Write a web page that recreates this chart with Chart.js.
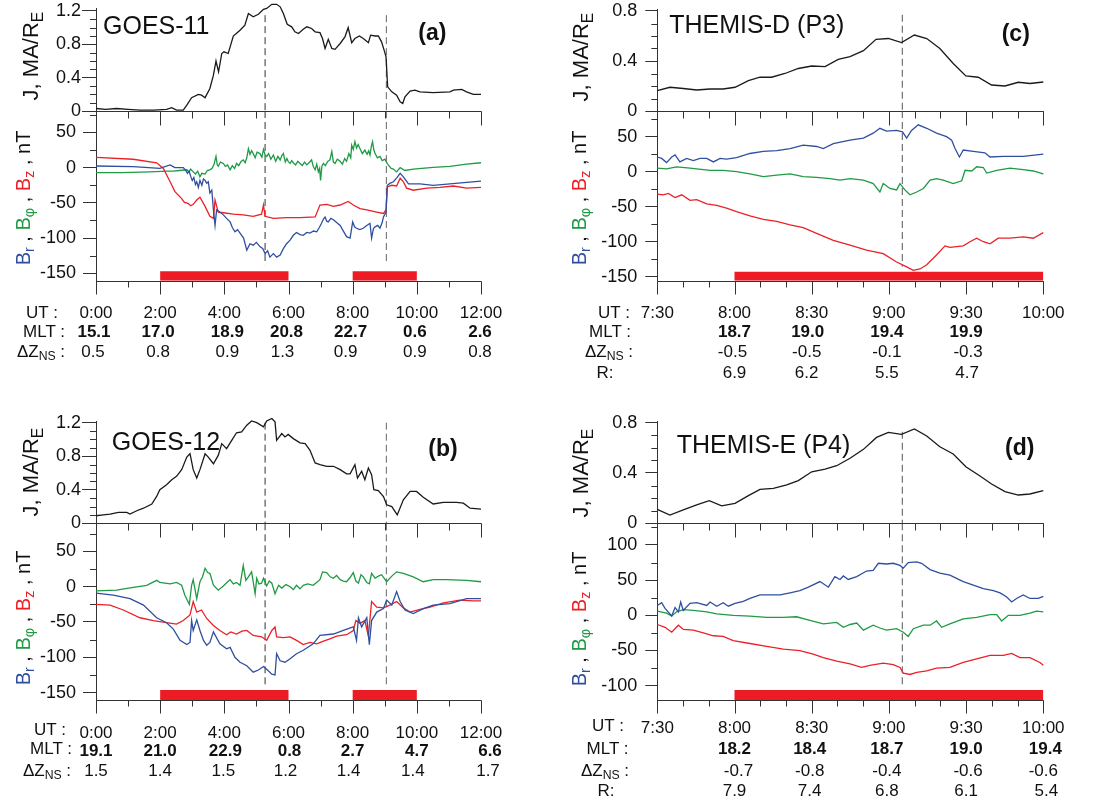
<!DOCTYPE html>
<html><head><meta charset="utf-8">
<script src="https://cdn.jsdelivr.net/npm/chart.js@4"></script>
<style>
html,body{margin:0;padding:0;background:#fff;}
#page{position:relative;width:1099px;height:806px;overflow:hidden;font-family:"Liberation Sans",Arial,Helvetica,sans-serif;color:#111;background:#fff;}
#page canvas{position:absolute;left:0;top:0;}
.t{position:absolute;white-space:nowrap;transform:translate(-50%,-50%);font-size:17px;line-height:1;}
.b{font-weight:bold;}
.rot{position:absolute;white-space:nowrap;transform:translate(-50%,-50%) rotate(-90deg);line-height:1;}
.ttl{position:absolute;white-space:nowrap;line-height:1;}
sub{font-size:72%;vertical-align:-0.3em;line-height:0;}
</style></head>
<body><div id="page"></div>
<script>
// ---------------- DATA ----------------
// Panel (a) GOES-11, time in hours UT
const tJa=[0,0.3,0.64,1.0,1.37,1.8,2.2,2.36,2.51,2.72,2.83,2.98,3.19,3.29,3.40,3.55,3.66,3.74,3.82,3.92,3.99,4.12,4.28,4.49,4.64,4.75,4.90,5.06,5.22,5.32,5.48,5.63,5.74,5.84,5.96,6.10,6.20,6.31,6.46,6.57,6.72,6.83,6.98,7.06,7.14,7.24,7.35,7.45,7.61,7.76,7.86,7.97,8.07,8.21,8.33,8.49,8.56,8.70,8.80,8.90,8.98,9.04,9.09,9.22,9.37,9.48,9.56,9.63,9.79,9.94,10.10,10.51,11.03,11.14,11.40,11.55,11.76,12.0];
const jA=[0.03,0.02,0.03,0.02,0.01,0.01,0.02,0.04,0.01,0.01,0.07,0.16,0.2,0.19,0.16,0.27,0.43,0.6,0.47,0.69,0.71,0.69,0.9,0.97,1.03,1.17,1.13,1.16,1.22,1.23,1.28,1.28,1.25,1.17,1.04,1.01,0.95,0.93,0.98,1.01,0.99,0.95,0.94,0.87,0.75,0.86,0.75,0.74,0.81,0.89,1.0,0.82,0.87,0.9,0.87,0.82,0.91,0.9,0.9,0.83,0.73,0.65,0.29,0.23,0.19,0.11,0.09,0.17,0.24,0.25,0.23,0.22,0.23,0.25,0.26,0.23,0.2,0.2];
const tBzA=[0,1.16,1.89,2.10,2.31,2.46,2.67,2.75,2.88,2.95,3.03,3.14,3.24,3.40,3.55,3.66,3.71,3.81,3.97,4.28,4.59,4.90,5.16,5.22,5.27,5.53,5.94,6.36,6.83,6.98,7.19,7.40,7.61,7.86,8.02,8.23,8.44,8.75,8.96,9.04,9.08,9.22,9.37,9.48,9.58,9.68,9.89,10.31,10.72,11.14,11.55,12.0];
const bzA=[14.7,12,7,-1,-20,-34,-44,-49,-51,-54,-52,-46,-42,-55,-69,-72,-46,-63,-64,-66,-67,-69,-66,-53,-69,-72,-71,-71,-70,-53,-52,-55,-53,-48,-53,-58,-60,-63,-65,-60,-27,-25,-26,-15,-20,-29,-32,-29,-28,-26,-29,-28];
const tBrA=[0,1.16,1.99,2.31,2.46,2.72,2.8,2.85,2.9,2.95,3.0,3.05,3.1,3.14,3.19,3.24,3.3,3.35,3.40,3.45,3.50,3.55,3.61,3.66,3.71,3.76,3.86,3.97,4.07,4.18,4.25,4.33,4.41,4.49,4.6,4.70,4.8,4.90,5.0,5.11,5.2,5.27,5.35,5.42,5.53,5.63,5.74,5.84,5.94,6.05,6.15,6.25,6.36,6.46,6.57,6.67,6.78,6.88,6.96,7.03,7.09,7.14,7.19,7.24,7.32,7.40,7.5,7.61,7.71,7.81,7.92,8.00,8.06,8.12,8.22,8.33,8.44,8.54,8.59,8.65,8.70,8.78,8.85,8.92,8.96,9.04,9.08,9.17,9.27,9.38,9.48,9.58,9.74,10.10,10.51,11.03,11.55,12.0];
const brA=[2.4,1.4,-1,4,0,0,-4,-8,-5,-12,-18,-14,-24,-20,-28,-18,-25,-16,-18,-22,-20,-36,-32,-60,-82,-60,-63,-67,-72,-77,-85,-91,-88,-93,-100,-117,-108,-110,-106,-112,-115,-122,-118,-127,-122,-127,-124,-115,-108,-103,-96,-92,-95,-96,-92,-93,-90,-91,-85,-79,-73,-70,-76,-77,-72,-74,-78,-82,-90,-98,-100,-77,-84,-86,-88,-86,-82,-79,-100,-86,-84,-82,-86,-78,-70,-63,-25,-22,-20,-14,-8,-13,-23,-23,-25,-23,-21,-19];
const tBpA=[0,0.8,1.68,2.2,2.41,2.6,2.83,2.9,2.95,3.03,3.1,3.17,3.24,3.3,3.4,3.47,3.55,3.62,3.68,3.74,3.78,3.81,3.88,3.97,4.03,4.1,4.18,4.25,4.32,4.38,4.45,4.52,4.59,4.65,4.7,4.75,4.8,4.85,4.9,4.96,5.02,5.11,5.17,5.22,5.27,5.32,5.38,5.45,5.53,5.6,5.67,5.74,5.79,5.84,5.9,5.95,5.99,6.05,6.1,6.15,6.22,6.29,6.36,6.43,6.5,6.57,6.64,6.72,6.77,6.83,6.88,6.93,6.97,7.0,7.04,7.09,7.15,7.22,7.29,7.35,7.4,7.45,7.52,7.61,7.68,7.75,7.81,7.88,7.94,7.97,8.02,8.07,8.12,8.17,8.23,8.3,8.38,8.45,8.5,8.54,8.58,8.62,8.66,8.70,8.77,8.85,8.92,9.01,9.06,9.11,9.2,9.27,9.37,9.48,9.63,9.89,10.51,11.03,11.55,12.0];
const bpA=[-7,-7,-6,-5,-5,-4,-3,-6,-2,-6,-9,-5,-13,-8,-9,-4,-3,-1,5,16,4,2,8,6,2,4,-3,3,-1,6,3,9,11,7,14,27,19,24,20,14,22,20,15,26,18,16,20,12,18,9,16,11,17,20,8,13,9,6,10,7,4,9,6,3,8,4,7,11,2,-3,5,-6,-1,-18,2,6,3,9,11,23,8,6,12,9,5,13,9,20,14,32,26,37,28,33,27,20,25,19,24,18,30,37,25,20,14,16,10,12,7,4,-1,-2,-6,0,-4,-2,0.5,2,5,7];

// Panel (b) GOES-12
const tJb=[0,0.23,0.44,0.70,0.96,1.06,1.27,1.48,1.74,1.89,1.99,2.20,2.36,2.51,2.67,2.83,2.93,3.03,3.14,3.24,3.40,3.50,3.66,3.81,3.92,4.07,4.23,4.38,4.54,4.70,4.85,5.01,5.22,5.32,5.48,5.58,5.63,5.79,5.89,5.99,6.15,6.36,6.52,6.67,6.83,6.98,7.19,7.40,7.61,7.81,7.92,8.07,8.15,8.28,8.38,8.49,8.59,8.66,8.80,8.96,9.06,9.22,9.39,9.58,9.79,9.99,10.20,10.51,10.83,11.24,11.45,11.66,12.0];
const jB=[0.09,0.10,0.11,0.13,0.13,0.11,0.15,0.18,0.23,0.32,0.40,0.46,0.52,0.56,0.64,0.79,0.83,0.64,0.54,0.64,0.83,0.79,0.71,0.81,0.95,0.89,0.99,1.08,1.09,1.17,1.22,1.2,1.15,1.22,1.25,1.21,0.99,1.07,1.03,1.06,1.01,0.96,0.95,0.87,0.72,0.70,0.68,0.68,0.64,0.59,0.59,0.70,0.54,0.62,0.52,0.66,0.58,0.40,0.39,0.32,0.22,0.20,0.10,0.28,0.38,0.38,0.31,0.23,0.25,0.25,0.24,0.18,0.17];
const tBpB=[0,0.64,1.16,1.58,1.89,1.99,2.31,2.51,2.67,2.77,2.91,2.98,3.03,3.14,3.24,3.32,3.40,3.48,3.55,3.66,3.81,3.97,4.08,4.18,4.28,4.38,4.49,4.59,4.67,4.75,4.85,4.96,5.01,5.08,5.16,5.22,5.32,5.40,5.48,5.58,5.69,5.79,5.92,6.05,6.15,6.25,6.36,6.46,6.6,6.77,6.98,7.06,7.19,7.30,7.40,7.50,7.61,7.71,7.81,7.92,8.02,8.10,8.18,8.26,8.33,8.44,8.52,8.59,8.70,8.80,8.90,9.06,9.22,9.37,9.58,9.89,10.20,10.51,10.93,11.55,12.0];
const bpB=[-6,-5,-1,2,9,6,4,6,2,-12,-25,2,10,-17,7,14,26,20,19,2,-5,1,6,10,4,6,2,30,9,14,21,-10,12,4,5,12,1,8,5,-10,2,-2,3,0,-4,2,-3,2,4,2,10,21,20,14,12,16,10,8,7,13,20,8,5,17,14,6,4,19,12,15,17,7,15,21,19,14,7,10,10,9,7];
const tBzB=[0,0.44,0.85,1.37,1.79,2.20,2.51,2.72,2.93,3.03,3.14,3.29,3.45,3.66,3.86,4.07,4.2,4.38,4.55,4.70,4.90,5.16,5.32,5.48,5.58,5.63,5.84,6.05,6.25,6.46,6.67,6.88,7.09,7.29,7.50,7.81,8.02,8.10,8.23,8.38,8.49,8.59,8.75,8.96,9.16,9.37,9.58,9.79,10.10,10.41,10.83,11.34,11.76,12.0];
const bzB=[-25,-26,-33,-44,-48,-51,-53,-48,-40,-21,-36,-33,-45,-55,-62,-68,-64,-67,-63,-62,-69,-71,-76,-62,-57,-71,-72,-71,-76,-82,-79,-81,-77,-74,-70,-68,-62,-48,-52,-48,-70,-21,-29,-30,-26,-21,-30,-36,-32,-29,-23,-19,-20,-20];
const tBrB=[0,0.54,1.06,1.48,1.89,2.20,2.41,2.62,2.83,2.93,2.98,3.03,3.14,3.24,3.35,3.45,3.55,3.66,3.86,4.07,4.18,4.33,4.49,4.70,4.90,5.06,5.22,5.32,5.48,5.58,5.63,5.74,5.89,6.05,6.25,6.46,6.77,6.98,7.40,7.71,8.02,8.12,8.18,8.28,8.44,8.52,8.59,8.75,8.96,9.06,9.22,9.37,9.48,9.63,9.89,10.20,10.51,11.03,11.55,12.0];
const brB=[-9,-12,-17,-26,-44,-51,-60,-76,-82,-79,-48,-62,-47,-62,-76,-83,-79,-64,-81,-88,-86,-100,-107,-112,-121,-118,-113,-117,-124,-125,-95,-105,-107,-102,-95,-90,-81,-69,-67,-62,-57,-76,-44,-57,-44,-82,-48,-36,-31,-19,-26,-7,-21,-33,-38,-31,-26,-24,-17,-17];

// Panel (c) THEMIS-D, time in minutes UT
const tJc=[450,454.9,460.1,465.3,470.5,475.6,480.2,485.4,489.9,494.4,499.6,504.8,510,515.2,520.3,524.9,530.1,535,539.8,544.9,549.9,554.7,559.8,565,569.9,574.7,579.9,585.1,590.3,594.8,600];
const jC=[0.163,0.19,0.18,0.168,0.176,0.176,0.19,0.243,0.27,0.27,0.30,0.34,0.36,0.355,0.413,0.435,0.483,0.573,0.58,0.547,0.608,0.58,0.50,0.38,0.28,0.27,0.208,0.20,0.23,0.22,0.232];
const tBrC=[450,451.7,453.6,455.6,456.9,458.8,461.4,464.0,466.6,469.2,471.8,474.4,476.9,480.8,486.0,491.2,496.4,501.6,506.7,511.9,514.5,518.4,524.9,530.1,533.9,536.5,539.1,543.0,545.3,546.9,548.8,551.4,554.7,558.5,562.4,564.4,565.7,567.4,568.9,572.8,577.3,579.3,584.5,592.2,600];
const brC=[21,19,13,21,24,14,19,16,19,19,14,19,18,20,26,29,30,33,38,36,33,40,45,48,55,62,58,59,57,48,59,67,62,55,50,45,33,21,31,29,27,21,22,22,25];
const tBpC=[450,453.6,457.5,462.7,470.5,475.6,480.8,486.0,491.2,496.4,501.6,506.7,511.9,517.1,521.0,524.9,530.1,533.9,536.5,537.8,540.4,543.0,544.3,546.2,548.2,550.8,553.4,556.0,558.5,561.1,565.0,568.3,569.6,572.2,574.1,576.7,578.0,581.9,587.0,592.2,596.1,600];
const bpC=[5,4,7,5,2,2,0,-3,-7,-5,-3,-7,-8,-10,-12,-10,-12,-17,-29,-17,-24,-26,-17,-26,-33,-29,-24,-12,-10,-12,-17,-13,2,1,7,6,-2,2,5,3,1,-3];
const tBzC=[450,452.3,454.3,456.9,459.5,462.7,465.3,469.2,473.1,476.9,480.8,486.0,491.2,496.4,501.6,506.7,511.9,518.4,524.9,531.3,537.8,543.0,546.9,549.5,552.1,554.7,558.5,561.8,563.7,568.9,571.5,574.1,576.7,579.3,582.5,587.0,592.2,596.1,600];
const bzC=[-32,-33,-31,-37,-33,-41,-40,-46,-48,-52,-57,-63,-68,-71,-76,-80,-88,-98,-105,-112,-117,-129,-136,-141,-139,-133,-119,-106,-108,-106,-100,-95,-100,-103,-95,-95,-93,-95,-87];

// Panel (d) THEMIS-E
const tJd=[450,454.9,460.1,465.3,470.2,475.0,480.2,485.4,489.9,495.1,500.3,504.8,510,515.2,519.7,524.9,530.1,535.2,539.8,544.9,549.9,554.7,559.8,565,569.9,575.4,579.9,585.1,590.3,594.8,600];
const jD=[0.111,0.066,0.106,0.146,0.18,0.138,0.159,0.22,0.27,0.278,0.305,0.34,0.41,0.43,0.458,0.517,0.588,0.683,0.723,0.707,0.75,0.694,0.609,0.551,0.45,0.376,0.313,0.252,0.225,0.233,0.26];
const tBrD=[450,451.7,453.0,455.6,456.9,458.2,459.1,460.1,462.7,465.3,469.2,470.5,473.1,475.6,477.6,480.2,483.4,486.0,489.9,493.8,497.7,501.6,505.4,508.7,513.2,516.5,519.0,521.0,522.3,524.2,527.5,531.3,533.9,535.9,539.1,541.7,544.3,545.6,547.5,550.8,552.7,556.0,559.8,563.7,568.9,572.8,576.7,580.6,583.2,585.8,587.7,589.6,592.2,594.8,598.1,600];
const brD=[14,18,10,-1,11,5,19,7,17,18,14,19,13,18,13,17,20,24,29,29,29,32,35,40,48,40,55,51,56,51,55,63,64,74,73,74,71,67,75,76,74,65,60,57,48,43,38,35,32,26,19,24,29,24,24,27];
const tBpD=[450,453.6,455.6,457.5,460.1,464.0,469.2,473.1,479.5,486.0,492.5,499.0,504.1,509.3,514.5,519.7,522.3,524.9,527.5,530.1,533.9,536.5,539.1,543.0,545.6,547.5,549.5,553.4,556.0,558.5,560.5,563.7,568.9,574.1,579.3,581.9,583.8,586.4,590.9,594.8,597.4,600];
const bpD=[6,3,-1,5,8,7,5,2,0,-1,-3,-3,-2,-7,-12,-10,-17,-13,-11,-21,-14,-18,-21,-19,-24,-30,-19,-14,-14,-8,-17,-12,-5,-3,1,1,-8,0,0,3,6,5];
const tBzD=[450,453.0,455.6,458.2,460.1,464.0,467.9,471.8,475.6,479.5,486.0,492.5,499.0,505.4,510.6,514.5,519.7,524.9,529.4,532.6,537.8,541.7,544.3,545.6,548.2,550.8,554.7,558.5,563.7,568.9,574.1,579.3,584.5,587.7,590.9,594.8,598.7,600];
const bzD=[-13,-17,-24,-14,-20,-21,-25,-29,-30,-36,-40,-44,-48,-50,-55,-60,-65,-69,-74,-71,-68,-70,-74,-82,-84,-81,-79,-75,-74,-67,-62,-57,-57,-54,-60,-60,-67,-71];

// Event intervals (red bars) and marker times (dashed lines)
const barsGoes=[[2,6],[8,10]];
const barsThemis=[[480,600]];
const dashGoes=[5.27,9.05];
const dashThemis=[545.2];

// Axis ticks
const xMajorGoes=[0,2,4,6,8,10,12], xMinorGoes=[1,3,5,7,9,11];
const xMajorThemis=[450,480,510,540,570,600], xMinorThemis=[460,470,490,500,520,530,550,560,580,590];
const jTicksGoes=[0,0.4,0.8,1.2], jMinorGoes=[0.1,0.2,0.3,0.5,0.6,0.7,0.9,1.0,1.1];
const jTicksThemis=[0,0.4,0.8], jMinorThemis=[0.1,0.2,0.3,0.5,0.6,0.7];
const bTicks=[-150,-100,-50,0,50], bMinor=[-125,-75,-25,25,75];
const bTicksD=[-100,-50,0,50,100], bMinorD=[-75,-25,25,75,125];

// Tables
const utGoes=['0:00','2:00','4:00','6:00','8:00','10:00','12:00'];
const mltA=['15.1','17.0','18.9','20.8','22.7','0.6','2.6'];
const dzA=['0.5','0.8','0.9','1.3','0.9','0.9','0.8'];
const mltB=['19.1','21.0','22.9','0.8','2.7','4.7','6.6'];
const dzB=['1.5','1.4','1.5','1.2','1.4','1.4','1.7'];
const utThemis=['7:30','8:00','8:30','9:00','9:30','10:00'];
const colsC=[480,510,540,570];
const mltC=['18.7','19.0','19.4','19.9'];
const dzC=['-0.5','-0.5','-0.1','-0.3'];
const rC=['6.9','6.2','5.5','4.7'];
const colsD=[480,510,540,570,600];
const mltD=['18.2','18.4','18.7','19.0','19.4'];
const dzD=['-0.7','-0.8','-0.4','-0.6','-0.6'];
const rD=['7.9','7.4','6.8','6.1','5.4'];

// ---------------- DRAWING ----------------
const W=1099,H=806,YW=70;
const FONT='"Liberation Sans", Arial, Helvetica, sans-serif';
const BLUE='#2f4f9f', GREEN='#1f9a45', RED='#ec2027', BLACK='#1a1a1a', BAR='#ed1c24';
const page=document.getElementById('page');

function pts(t,v){const n=Math.min(t.length,v.length),o=[];for(let i=0;i<n;i++)o.push({x:t[i],y:v[i]});return o;}
function series(t,v,color,order){return {data:pts(t,v),borderColor:color,borderWidth:1.3,pointRadius:0,fill:false,tension:0,order:order,clip:false};}
function dashes(xs,y0,y1,colors){return xs.map((x,i)=>({data:[{x:x,y:y0},{x:x,y:y1}],borderColor:colors[i]||'#444',borderWidth:1,borderDash:[7,4],pointRadius:0,order:5,clip:false}));}
function bars(list,y,w){const d=[];list.forEach((b,i)=>{if(i>0)d.push({x:(list[i-1][1]+b[0])/2,y:null});d.push({x:b[0],y:y},{x:b[1],y:y});});
  return {data:d,borderColor:BAR,borderWidth:w,borderCapStyle:'butt',spanGaps:false,pointRadius:0,order:9};}

function mkChart(cfg){
  const cv=document.createElement('canvas');
  cv.width=W;cv.height=H;cv.style.width=W+'px';cv.style.height=H+'px';
  page.appendChild(cv);
  const a=cfg.area;
  const deco={id:'deco',afterDraw(chart){
    const c=chart.ctx,ca=chart.chartArea,xs=chart.scales.x,ys=chart.scales.y;
    c.save();c.strokeStyle='#333';c.lineWidth=1;c.beginPath();
    const L=ca.left;
    cfg.yMinor.forEach(v=>{const y=Math.round(ys.getPixelForValue(v))+0.5;c.moveTo(L-6,y);c.lineTo(L,y);});
    if(cfg.frame){
      const yb=Math.round(ca.bottom)+0.5,yt=Math.round(ca.top)+0.5;
      c.moveTo(L,yb);c.lineTo(ca.right+0.5,yb);
      c.moveTo(L,yt);c.lineTo(ca.right+0.5,yt);
      cfg.xMajor.forEach(v=>{const x=Math.round(xs.getPixelForValue(v))+0.5;c.moveTo(x,yb);c.lineTo(x,yb+13);c.moveTo(x,yt);c.lineTo(x,yt+14);});
      cfg.xMinor.forEach(v=>{const x=Math.round(xs.getPixelForValue(v))+0.5;c.moveTo(x,yb);c.lineTo(x,yb+6);c.moveTo(x,yt);c.lineTo(x,yt+7);});
    }
    c.stroke();c.restore();
  }};
  return new Chart(cv.getContext('2d'),{
    type:'line',
    data:{datasets:cfg.datasets},
    options:{
      responsive:false,animation:false,devicePixelRatio:1,events:[],
      layout:{padding:{left:a.l-YW,top:a.t,right:W-a.r,bottom:H-a.b}},
      plugins:{legend:{display:false},tooltip:{enabled:false}},
      elements:{point:{radius:0},line:{tension:0}},
      scales:{
        x:{type:'linear',display:false,min:cfg.x[0],max:cfg.x[1]},
        y:{type:'linear',position:'left',min:cfg.y[0],max:cfg.y[1],
          afterBuildTicks:s=>{s.ticks=cfg.yMajor.map(v=>({value:v}));},
          afterFit:s=>{s.width=YW;s.paddingTop=0;s.paddingBottom=0;},
          ticks:{color:'#111',font:{family:FONT,size:18},padding:cfg.labPad,callback:v=>String(v)},
          grid:{display:true,drawOnChartArea:false,drawTicks:true,tickLength:cfg.tickLen,color:'#333',lineWidth:1},
          border:{display:true,color:'#333',width:1}}
      }
    },
    plugins:[deco]
  });
}

// ----- Panel (a) -----
mkChart({area:{l:96,r:481,t:8,b:111},x:[0,12],y:[0,1.236],yMajor:jTicksGoes,yMinor:jMinorGoes,tickLen:14,labPad:1,
  datasets:[series(tJa,jA,BLACK,1),...dashes(dashGoes,1.15,0,['#333','#666'])]});
const chA=mkChart({area:{l:96,r:481,t:111,b:280.7},x:[0,12],y:[-160.5,80.5],yMajor:bTicks,yMinor:bMinor,tickLen:13,labPad:7,frame:true,xMajor:xMajorGoes,xMinor:xMinorGoes,
  datasets:[series(tBrA,brA,BLUE,1),series(tBzA,bzA,RED,2),series(tBpA,bpA,GREEN,3),...dashes(dashGoes,80.5,-138.4,['#333','#666']),bars(barsGoes,-153.9,9.5)]});
// ----- Panel (b) -----
mkChart({area:{l:96,r:481,t:421,b:523.3},x:[0,12],y:[0,1.22],yMajor:jTicksGoes,yMinor:jMinorGoes,tickLen:14,labPad:1,
  datasets:[series(tJb,jB,BLACK,1),...dashes(dashGoes,1.2,0,['#333','#666'])]});
const chB=mkChart({area:{l:96,r:481,t:523.3,b:700},x:[0,12],y:[-160.5,89.8],yMajor:bTicks,yMinor:bMinor,tickLen:13,labPad:7,frame:true,xMajor:xMajorGoes,xMinor:xMinorGoes,
  datasets:[series(tBrB,brB,BLUE,1),series(tBzB,bzB,RED,2),series(tBpB,bpB,GREEN,3),...dashes(dashGoes,89.8,-141.4,['#333','#666']),bars(barsGoes,-153.3,10)]});
// ----- Panel (c) -----
mkChart({area:{l:657.3,r:1043.3,t:9,b:111},x:[450,600],y:[0,0.816],yMajor:jTicksThemis,yMinor:jMinorThemis,tickLen:12,labPad:8,
  datasets:[series(tJc,jC,BLACK,1),...dashes(dashThemis,0.77,0,['#555'])]});
const chC=mkChart({area:{l:657.3,r:1043.3,t:111,b:280.7},x:[450,600],y:[-155.7,86.7],yMajor:bTicks,yMinor:bMinor,tickLen:12,labPad:8,frame:true,xMajor:xMajorThemis,xMinor:xMinorThemis,
  datasets:[series(tBrC,brC,BLUE,1),series(tBzC,bzC,RED,2),series(tBpC,bpC,GREEN,3),...dashes(dashThemis,86.7,-135.7,['#555']),bars(barsThemis,-149.3,9)]});
// ----- Panel (d) -----
mkChart({area:{l:657.3,r:1043.3,t:421,b:523.3},x:[450,600],y:[0,0.8135],yMajor:jTicksThemis,yMinor:jMinorThemis,tickLen:12,labPad:8,
  datasets:[series(tJd,jD,BLACK,1),...dashes(dashThemis,0.728,0,['#555'])]});
const chD=mkChart({area:{l:657.3,r:1043.3,t:523.3,b:700},x:[450,600],y:[-120.3,130.8],yMajor:bTicksD,yMinor:bMinorD,tickLen:12,labPad:8,frame:true,xMajor:xMajorThemis,xMinor:xMinorThemis,
  datasets:[series(tBrD,brD,BLUE,1),series(tBzD,bzD,RED,2),series(tBpD,bpD,GREEN,3),...dashes(dashThemis,130.8,-101.5,['#555']),bars(barsThemis,-113.3,10)]});

// ---------------- TEXT ----------------
function txt(html,x,y,cls,style){const d=document.createElement('div');d.className=cls||'t';d.innerHTML=html;d.style.left=x+'px';d.style.top=y+'px';if(style)d.style.cssText+=style;page.appendChild(d);return d;}
function title(html,x,base,fs,bold){return txt(html,x,base-0.8465*fs,'ttl','font-size:'+fs+'px;'+(bold?'font-weight:bold;':''));}
title('GOES-11',103,34,25);title('(a)',418.3,40.2,23,true);
title('GOES-12',111.7,449.8,25);title('(b)',428.3,456.9,23,true);
title('THEMIS-D (P3)',669.3,33.2,25);title('(c)',1001.7,41.9,23,true);
title('THEMIS-E (P4)',676.7,453.2,25);title('(d)',1005,455.2,23,true);

const jTitle='J, MA/R<sub>E</sub>';
const bTitle='<span style="color:'+BLUE+'">B<sub>r</sub></span> , <span style="color:'+GREEN+'">B<sub>φ</sub></span> , <span style="color:'+RED+'">B<sub>z</sub></span> , nT';
[[31,56,23,198],[31,472,23,618],[581,56.5,579,198],[581,472.5,579,618.5]].forEach(p=>{
  txt(jTitle,p[0],p[1],'rot','font-size:22px;');
  txt(bTitle,p[2],p[3],'rot','font-size:20px;');
});

function row(chart,cols,labels,y,bold,nudge){const xs=chart.scales.x;cols.forEach((c,i)=>{txt(labels[i],xs.getPixelForValue(c)+((nudge&&nudge[i])||0),y,bold?'t b':'t');});}
const DZ='ΔZ<sub>NS</sub> :';
// (a)
txt('UT :',42,311.7);txt('MLT :',44,330.7);txt(DZ,41,350.7);
row(chA,xMajorGoes,utGoes,311.7,false);
row(chA,xMajorGoes,mltA,330.7,true,[-2,-2,3,-2,-2,-2,-1]);
row(chA,xMajorGoes,dzA,350.7,false,[-3,-2,3,-6,-7,-2,-1]);
// (b)
txt('UT :',50,729);txt('MLT :',51,748);txt(DZ,47,770);
row(chB,xMajorGoes,utGoes,731.7,false);
row(chB,xMajorGoes,mltB,750,true,[0,0,1,1,0,0,9]);
row(chB,xMajorGoes,dzB,770,false,[0,0,-1,-3,-4,-4,7]);
// (c)
txt('UT :',614,311.7);txt('MLT :',610,330.7);txt(DZ,609,350.7);txt('R:',605,371.7);
row(chC,xMajorThemis,utThemis,311.7,false);
row(chC,colsC,mltC,330.7,true,[0,-4,-2,0]);
row(chC,colsC,dzC,350.7,false,[-2,-5,-2,2]);
row(chC,colsC,rC,371.7,false,[0,-5,-2,1]);
// (d)
txt('UT :',608,725);txt('MLT :',607.5,748.3);txt(DZ,605,770);txt('R:',606,790);
row(chD,xMajorThemis,utThemis,726.7,false);
row(chD,colsD,mltD,748.3,true,[0,-2,-2,0,2]);
row(chD,colsD,dzD,770,false,[4,-2,-2,2,0]);
row(chD,colsD,rD,790,false,[0,-2,-2,0,3]);
</script>
</body></html>
